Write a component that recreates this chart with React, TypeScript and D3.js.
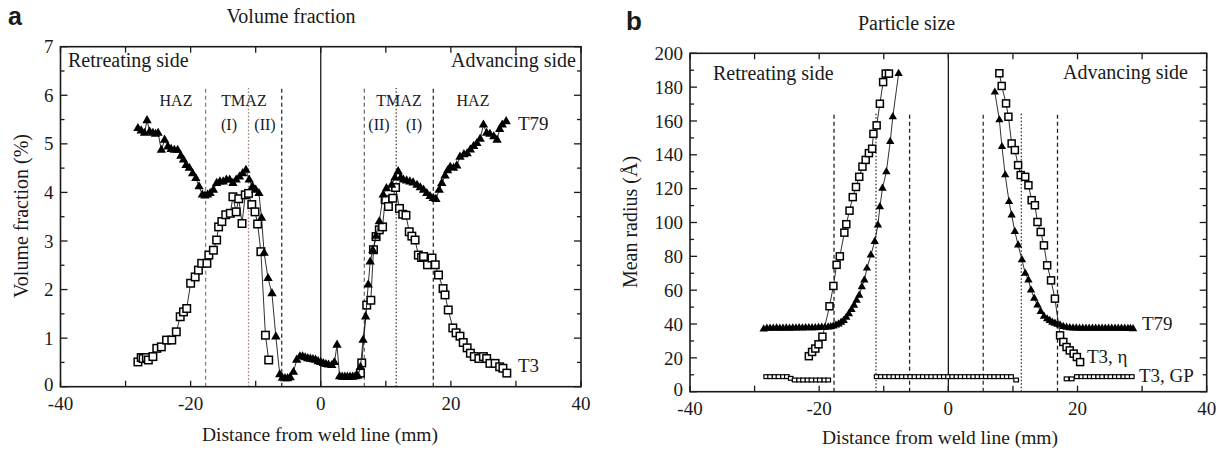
import React from 'react';
import * as d3 from 'd3';

type P = [number, number];

// ---------- Panel a: volume fraction (%) ----------
const volT79: P[] = [
  [-28.1,5.32],[-27.6,5.27],[-27.1,5.22],[-26.7,5.48],[-26.3,5.25],[-25.8,5.22],[-25.4,5.2],[-25.0,5.22],
  [-24.5,4.87],[-24.0,5.08],[-23.5,4.94],[-23.0,4.89],[-22.5,4.87],[-22.0,4.87],[-21.5,4.75],[-21.1,4.67],
  [-20.7,4.56],[-20.2,4.5],[-19.7,4.39],[-19.2,4.29],[-18.7,4.12],[-18.2,3.95],[-17.8,3.93],[-17.4,3.95],
  [-17.0,3.98],[-16.5,4.05],[-16.0,4.19],[-15.5,4.22],[-15.0,4.22],[-14.5,4.26],[-14.0,4.26],[-13.5,4.19],
  [-13.0,4.26],[-12.5,4.32],[-12.0,4.39],[-11.5,4.46],[-11.0,4.26],[-10.5,4.12],[-10.0,4.05],[-9.5,3.98],
  [-9.1,3.47],[-8.7,2.75],[-8.1,2.23],[-7.5,1.92],[-6.9,1.03],[-6.3,0.25],[-5.9,0.18],[-5.5,0.17],
  [-5.1,0.17],[-4.7,0.19],[-4.2,0.3],[-3.7,0.55],[-3.2,0.62],[-2.8,0.62],[-2.4,0.6],[-2.0,0.58],
  [-1.6,0.57],[-1.2,0.56],[-0.8,0.55],[-0.4,0.52],[0,0.5],[0.4,0.48],[0.8,0.46],[1.2,0.45],
  [1.7,0.44],[2.1,0.5],[2.5,0.86],[2.9,0.21],[3.3,0.2],[3.7,0.2],[4.1,0.2],[4.5,0.2],
  [4.9,0.2],[5.3,0.21],[5.7,0.22],[6.1,0.4],[6.5,0.96],[6.9,1.44],[7.3,2.1],[7.6,2.57],
  [8.0,2.81],[8.5,3.1],[9.0,3.4],[9.6,3.95],[10.1,4.08],[10.9,4.15],[11.4,4.3],[11.9,4.43],
  [12.3,4.3],[12.7,4.26],[13.2,4.24],[13.7,4.22],[14.2,4.2],[14.8,4.15],[15.3,4.1],[15.8,4.05],
  [16.3,3.98],[16.8,3.92],[17.3,3.88],[17.7,3.86],[18.2,4.05],[18.6,4.19],[19.1,4.34],[19.5,4.45],
  [19.9,4.52],[20.4,4.5],[20.9,4.55],[21.4,4.73],[22.0,4.78],[22.5,4.8],[23.0,4.88],[23.5,4.95],
  [24.0,5.01],[24.5,5.1],[25.0,5.39],[25.5,5.22],[26.0,5.2],[26.6,5.15],[27.1,5.08],[27.5,5.3],
  [27.9,5.39],[28.5,5.46],
];
const volT3Left: P[] = [
  [-28.1,0.51],[-27.6,0.6],[-27.3,0.58],[-26.8,0.6],[-26.5,0.55],[-25.8,0.62],[-25.2,0.79],[-24.5,0.82],
  [-23.7,0.96],[-22.9,0.96],[-22.2,1.13],[-21.6,1.44],[-21.1,1.54],[-20.6,1.61],[-20.0,2.13],[-19.3,2.26],
  [-18.8,2.4],[-18.3,2.54],[-17.5,2.54],[-17.2,2.71],[-16.5,2.81],[-16.0,3.02],[-15.7,3.29],[-15.2,3.4],
  [-14.6,3.54],[-13.9,3.57],[-13.5,3.91],[-13.0,3.6],[-12.6,3.87],[-12.1,3.36],[-11.6,3.95],[-11.1,3.98],
  [-10.6,3.75],[-10.1,3.6],[-9.7,3.35],[-9.2,2.78],[-8.5,1.06],[-8.0,0.55],
];
const volT3Right: P[] = [
  [6.1,0.28],[6.3,0.49],[7.07,1.68],[7.7,1.78],[8.1,2.82],[8.5,3.09],[9.0,3.23],[9.5,3.29],
  [9.9,3.85],[10.4,3.71],[11.07,3.88],[11.5,4.1],[12.1,3.67],[12.6,3.55],[13.1,3.53],[13.6,3.19],
  [14.0,3.1],[14.5,3.02],[15.0,2.71],[15.5,2.66],[15.8,2.68],[16.4,2.51],[17.1,2.65],[17.6,2.51],
  [18.1,2.3],[18.8,2.02],[19.1,1.89],[19.6,1.58],[20.3,1.21],[20.8,1.11],[21.4,1.04],[21.9,0.91],
  [22.5,0.8],[23.0,0.69],[23.6,0.62],[24.3,0.58],[25.0,0.62],[25.5,0.58],[26.0,0.48],[26.8,0.48],
  [27.5,0.41],[28.0,0.38],[28.6,0.28],
];

// ---------- Panel b: mean radius (Å) ----------
const sizeT79Left: P[] = [
  [-28.6,37],[-28.1,37.5],[-27.6,37.5],[-27.1,37.5],[-26.6,37.6],[-26.1,37.5],[-25.6,37.5],[-25.1,37.6],
  [-24.6,37.5],[-24.1,37.6],[-23.6,37.6],[-23.1,37.7],[-22.6,37.6],[-22.1,37.7],[-21.6,37.8],[-21.1,37.8],
  [-20.6,37.8],[-20.1,37.9],[-19.6,38],[-19.1,38],[-18.6,38.2],[-18.2,38.4],[-17.8,38.8],[-17.4,39.4],
  [-17.0,40],[-16.6,41],[-16.2,42],[-15.8,44],[-15.4,46],[-15.0,48.5],[-14.6,51],[-14.2,54],
  [-13.8,57],[-13.4,62],[-13.0,66],[-12.6,73],[-12.0,80.8],[-11.4,88.7],[-10.9,98.5],[-10.6,109.3],
  [-10.2,120.2],[-9.6,130],[-9.0,147.8],[-8.6,162.5],[-7.7,188],
];
const sizeT79Right: P[] = [
  [7.2,177],[7.9,160.6],[8.3,144.8],[8.8,128.1],[9.4,112.3],[9.8,104.4],[10.3,94.6],[10.8,86.7],
  [11.4,77.9],[11.9,70],[12.4,66],[12.8,60],[13.3,55.2],[13.8,51.2],[14.3,47.3],[14.8,44.6],
  [15.3,43],[15.7,42],[16.1,41],[16.5,40.4],[16.9,39.8],[17.3,39.4],[17.8,38.5],[18.3,38],
  [18.8,37.8],[19.3,37.6],[19.8,37.6],[20.3,37.5],[20.8,37.5],[21.3,37.4],[21.8,37.5],[22.3,37.5],
  [22.8,37.4],[23.3,37.5],[23.8,37.4],[24.3,37.5],[24.8,37.4],[25.3,37.4],[25.8,37.5],[26.3,37.4],
  [26.8,37.4],[27.3,37.4],[27.8,37.3],[28.2,37.3],[28.6,37.2],
];
const sizeEtaLeft: P[] = [
  [-21.6,21],[-21.1,23.5],[-20.6,25.5],[-20.1,28],[-19.5,32.5],[-18.4,50.5],[-17.8,62.5],[-17.3,75],
  [-16.8,80],[-16.1,94],[-15.8,99],[-15.3,107],[-14.8,115],[-14.3,121],[-13.8,127],[-13.3,133],
  [-12.8,137],[-12.3,141],[-11.8,143.6],[-11.6,152.4],[-11.1,157.4],[-10.6,170.2],[-10.1,183],[-9.7,188],
  [-9.2,188],
];
const sizeEtaRight: P[] = [
  [7.9,188.2],[8.26,180.7],[8.93,170.4],[9.3,162.5],[9.8,146.7],[10.3,142.8],[10.8,133.9],[11.2,128],
  [11.9,127],[12.4,122],[12.9,113.2],[13.4,110.2],[13.8,100.3],[14.3,94.4],[14.8,86.5],[15.3,74.7],
  [15.9,65.8],[16.5,55],[17.3,33.3],[17.8,29.4],[18.3,26.4],[18.8,24.4],[19.4,22.5],[19.9,20.5],
  [20.4,17.5],
];
const sizeGPLeft: P[] = [
  [-28.2,8.9],[-27.6,8.9],[-26.9,8.9],[-26.3,8.9],[-25.6,8.9],[-25.0,8.9],[-24.4,7.9],[-23.8,6.9],
  [-23.1,6.9],[-22.5,6.9],[-21.8,6.9],[-21.2,6.9],[-20.5,6.9],[-19.9,6.9],[-19.2,6.9],[-18.6,6.9],
];
const sizeGPCenter: P[] = [
  [-11.1,8.9],[-10.45,8.9],[-9.8,8.9],[-9.15,8.9],[-8.5,8.9],[-7.85,8.9],[-7.2,8.9],[-6.55,8.9],
  [-5.9,8.9],[-5.25,8.9],[-4.6,8.9],[-3.95,8.9],[-3.3,8.9],[-2.65,8.9],[-2.0,8.9],[-1.35,8.9],
  [-0.7,8.9],[-0.05,8.9],[0.6,8.9],[1.25,8.9],[1.9,8.9],[2.55,8.9],[3.2,8.9],[3.85,8.9],
  [4.5,8.9],[5.15,8.9],[5.8,8.9],[6.45,8.9],[7.1,8.9],[7.75,8.9],[8.4,8.9],[9.05,8.9],
  [9.7,8.9],[10.5,6.9],
];
const sizeGPRight: P[] = [
  [18.3,7.6],[19.1,7.6],[19.9,8.9],[20.6,8.9],[21.2,8.9],[21.9,8.9],[22.5,8.9],[23.2,8.9],
  [23.8,8.9],[24.5,8.9],[25.1,8.9],[25.8,8.9],[26.4,8.9],[27.1,8.9],[27.7,8.9],[28.4,8.9],
];

// ---------- Axes / ticks ----------
const xTickValues = [-40, -30, -20, -10, 0, 10, 20, 30, 40];
const xTickLabels = [-40, -20, 0, 20, 40];
const volYTicks = [0, 0.5, 1, 1.5, 2, 2.5, 3, 3.5, 4, 4.5, 5, 5.5, 6, 6.5, 7];
const volYLabels = [0, 1, 2, 3, 4, 5, 6, 7];
const sizeYTicks = [0,10,20,30,40,50,60,70,80,90,100,110,120,130,140,150,160,170,180,190,200];
const sizeYLabels = [0,20,40,60,80,100,120,140,160,180,200];

// zone boundary lines (data x), style
const volZones = [
  { x: -17.7, dash: '4,3', color: '#9a7c74' },
  { x: -11.1, dash: '1.5,2', color: '#9a7c74' },
  { x: -6.0, dash: '4,3', color: '#333' },
  { x: 6.7, dash: '4,3', color: '#7d6e6a' },
  { x: 11.6, dash: '1.5,2', color: '#444' },
  { x: 17.3, dash: '4,3', color: '#333' },
];
const sizeZones = [
  { x: -17.7, dash: '4,3', color: '#222' },
  { x: -11.2, dash: '1.5,2', color: '#333' },
  { x: -6.0, dash: '4,3', color: '#222' },
  { x: 5.4, dash: '4,3', color: '#333' },
  { x: 11.3, dash: '1.5,2', color: '#333' },
  { x: 16.9, dash: '4,3', color: '#222' },
];

const SERIF = "'Liberation Serif', 'Times New Roman', serif";
const SANS = "'Liberation Sans', Arial, sans-serif";
const INK = '#1a1a1a';

type Sc = d3.ScaleLinear<number, number>;

function Frame({ x, y, yTicks, yLabels, majorEvery, fmt }: { x: Sc; y: Sc; yTicks: number[]; yLabels: number[]; majorEvery: (v: number) => boolean; fmt: (v: number) => string }) {
  const [x0, x1] = x.range();
  const [y0, y1] = y.range();
  return (
    <g>
      {xTickValues.map((v) => (
        <g key={'xt' + v}>
          <line x1={x(v)} x2={x(v)} y1={y0} y2={y0 - 6} stroke={INK} strokeWidth={1.3} />
          <line x1={x(v)} x2={x(v)} y1={y1} y2={y1 + 6} stroke={INK} strokeWidth={1.3} />
        </g>
      ))}
      {xTickLabels.map((v) => (
        <text key={'xl' + v} x={x(v)} y={y0 + 23} textAnchor="middle" fontFamily={SERIF} fontSize={19} fill={INK}>
          {v < 0 ? '-' + Math.abs(v) : String(v)}
        </text>
      ))}
      {yTicks.map((v) => {
        const len = majorEvery(v) ? 7 : 4;
        return (
          <g key={'yt' + v}>
            <line x1={x0} x2={x0 + len} y1={y(v)} y2={y(v)} stroke={INK} strokeWidth={1.3} />
            <line x1={x1} x2={x1 - len} y1={y(v)} y2={y(v)} stroke={INK} strokeWidth={1.3} />
          </g>
        );
      })}
      {yLabels.map((v) => (
        <text key={'yl' + v} x={x0 - 7} y={y(v) - (v === 0 ? 2 : 0)} dy="0.35em" textAnchor="end" fontFamily={SERIF} fontSize={19} fill={INK}>
          {fmt(v)}
        </text>
      ))}
      <line x1={x(0)} x2={x(0)} y1={y0} y2={y1} stroke={INK} strokeWidth={1.3} />
      <rect x={x0} y={y1} width={x1 - x0} height={y0 - y1} fill="none" stroke={INK} strokeWidth={1.6} />
    </g>
  );
}

function Series({ data, x, y, marker, size }: { data: P[]; x: Sc; y: Sc; marker: 'tri' | 'sq' | 'gp'; size: number }) {
  const line = d3.line<P>().x((d) => x(d[0])).y((d) => y(d[1]));
  const tri = d3.symbol().type(d3.symbolTriangle).size(size)() as string;
  return (
    <g>
      <path d={line(data) || ''} fill="none" stroke={INK} strokeWidth={0.9} />
      {data.map((d, i) => {
        const cx = x(d[0]);
        const cy = y(d[1]);
        if (marker === 'tri') return <path key={i} d={tri} transform={`translate(${cx},${cy})`} fill="#000" />;
        if (marker === 'gp')
          return <rect key={i} x={cx - 2.3} y={cy - 1.9} width={4.6} height={3.8} fill="#fff" stroke="#000" strokeWidth={1.2} />;
        return <rect key={i} x={cx - size / 2} y={cy - size / 2} width={size} height={size} fill="#fff" stroke="#000" strokeWidth={1.5} />;
      })}
    </g>
  );
}

export default function App() {
  const xA = d3.scaleLinear().domain([-40, 40]).range([60.5, 581]);
  const yA = d3.scaleLinear().domain([0, 7]).range([386.7, 46.7]);
  const xB = d3.scaleLinear().domain([-40, 40]).range([690, 1206.7]);
  const yB = d3.scaleLinear().domain([0, 200]).range([391.7, 53.3]);

  return (
    <svg width={1225} height={450} style={{ position: 'absolute', left: 0, top: 0, background: '#fff' }}>
      <rect x={0} y={0} width={1225} height={450} fill="#fff" />

      {/* ----- Panel a ----- */}
      <text x={8} y={25} fontFamily={SANS} fontWeight="bold" fontSize={25} fill={INK}>a</text>
      <text x={291} y={23} textAnchor="middle" fontFamily={SERIF} fontSize={20} fill={INK}>Volume fraction</text>
      {volZones.map((z, i) => (
        <line key={i} x1={xA(z.x)} x2={xA(z.x)} y1={yA(0)} y2={yA(6.15)} stroke={z.color} strokeWidth={1.3} strokeDasharray={z.dash} />
      ))}
      <Frame x={xA} y={yA} yTicks={volYTicks} yLabels={volYLabels} majorEvery={(v) => Number.isInteger(v)} fmt={(v) => String(v)} />
      <Series data={volT3Left} x={xA} y={yA} marker="sq" size={7.5} />
      <Series data={volT3Right} x={xA} y={yA} marker="sq" size={7.5} />
      <Series data={volT79} x={xA} y={yA} marker="tri" size={38} />
      <text x={68} y={67} fontFamily={SERIF} fontSize={20} fill={INK}>Retreating side</text>
      <text x={576} y={67} textAnchor="end" fontFamily={SERIF} fontSize={20} fill={INK}>Advancing side</text>
      <text x={176} y={106} textAnchor="middle" fontFamily={SERIF} fontSize={16} fill={INK}>HAZ</text>
      <text x={244} y={106} textAnchor="middle" fontFamily={SERIF} fontSize={16} fill={INK}>TMAZ</text>
      <text x={229} y={130} textAnchor="middle" fontFamily={SERIF} fontSize={16} fill={INK}>(I)</text>
      <text x={265} y={130} textAnchor="middle" fontFamily={SERIF} fontSize={16} fill={INK}>(II)</text>
      <text x={399} y={106} textAnchor="middle" fontFamily={SERIF} fontSize={16} fill={INK}>TMAZ</text>
      <text x={379} y={130} textAnchor="middle" fontFamily={SERIF} fontSize={16} fill={INK}>(II)</text>
      <text x={414} y={130} textAnchor="middle" fontFamily={SERIF} fontSize={16} fill={INK}>(I)</text>
      <text x={473} y={106} textAnchor="middle" fontFamily={SERIF} fontSize={16} fill={INK}>HAZ</text>
      <text x={518} y={130} fontFamily={SERIF} fontSize={19} fill={INK}>T79</text>
      <text x={518} y={372} fontFamily={SERIF} fontSize={19} fill={INK}>T3</text>
      <text x={320} y={441} textAnchor="middle" fontFamily={SERIF} fontSize={19.5} fill={INK}>Distance from weld line (mm)</text>
      <text transform="translate(28,216) rotate(-90)" textAnchor="middle" fontFamily={SERIF} fontSize={20} fill={INK}>Volume fraction (%)</text>

      {/* ----- Panel b ----- */}
      <text x={626} y={30} fontFamily={SANS} fontWeight="bold" fontSize={26} fill={INK}>b</text>
      <text x={858} y={30} fontFamily={SERIF} fontSize={20} fill={INK}>Particle size</text>
      {sizeZones.map((z, i) => (
        <line key={i} x1={xB(z.x)} x2={xB(z.x)} y1={yB(0)} y2={yB(165)} stroke={z.color} strokeWidth={1.3} strokeDasharray={z.dash} />
      ))}
      <Frame x={xB} y={yB} yTicks={sizeYTicks} yLabels={sizeYLabels} majorEvery={(v) => v % 20 === 0} fmt={(v) => String(v)} />
      <Series data={sizeGPLeft} x={xB} y={yB} marker="gp" size={4} />
      <Series data={sizeGPCenter} x={xB} y={yB} marker="gp" size={4} />
      <Series data={sizeGPRight} x={xB} y={yB} marker="gp" size={4} />
      <Series data={sizeT79Left} x={xB} y={yB} marker="tri" size={30} />
      <Series data={sizeT79Right} x={xB} y={yB} marker="tri" size={30} />
      <Series data={sizeEtaLeft} x={xB} y={yB} marker="sq" size={7} />
      <Series data={sizeEtaRight} x={xB} y={yB} marker="sq" size={7} />
      <text x={713} y={80} fontFamily={SERIF} fontSize={20} fill={INK}>Retreating side</text>
      <text x={1188} y={79} textAnchor="end" fontFamily={SERIF} fontSize={20} fill={INK}>Advancing side</text>
      <text x={1142} y={330} fontFamily={SERIF} fontSize={19} fill={INK}>T79</text>
      <text x={1087} y={363} fontFamily={SERIF} fontSize={19} fill={INK}>T3, η</text>
      <text x={1139} y={382} fontFamily={SERIF} fontSize={19} fill={INK}>T3, GP</text>
      <text x={940} y={444} textAnchor="middle" fontFamily={SERIF} fontSize={19.5} fill={INK}>Distance from weld line (mm)</text>
      <text transform="translate(637,222) rotate(-90)" textAnchor="middle" fontFamily={SERIF} fontSize={20} fill={INK}>Mean radius (Å)</text>
    </svg>
  );
}
